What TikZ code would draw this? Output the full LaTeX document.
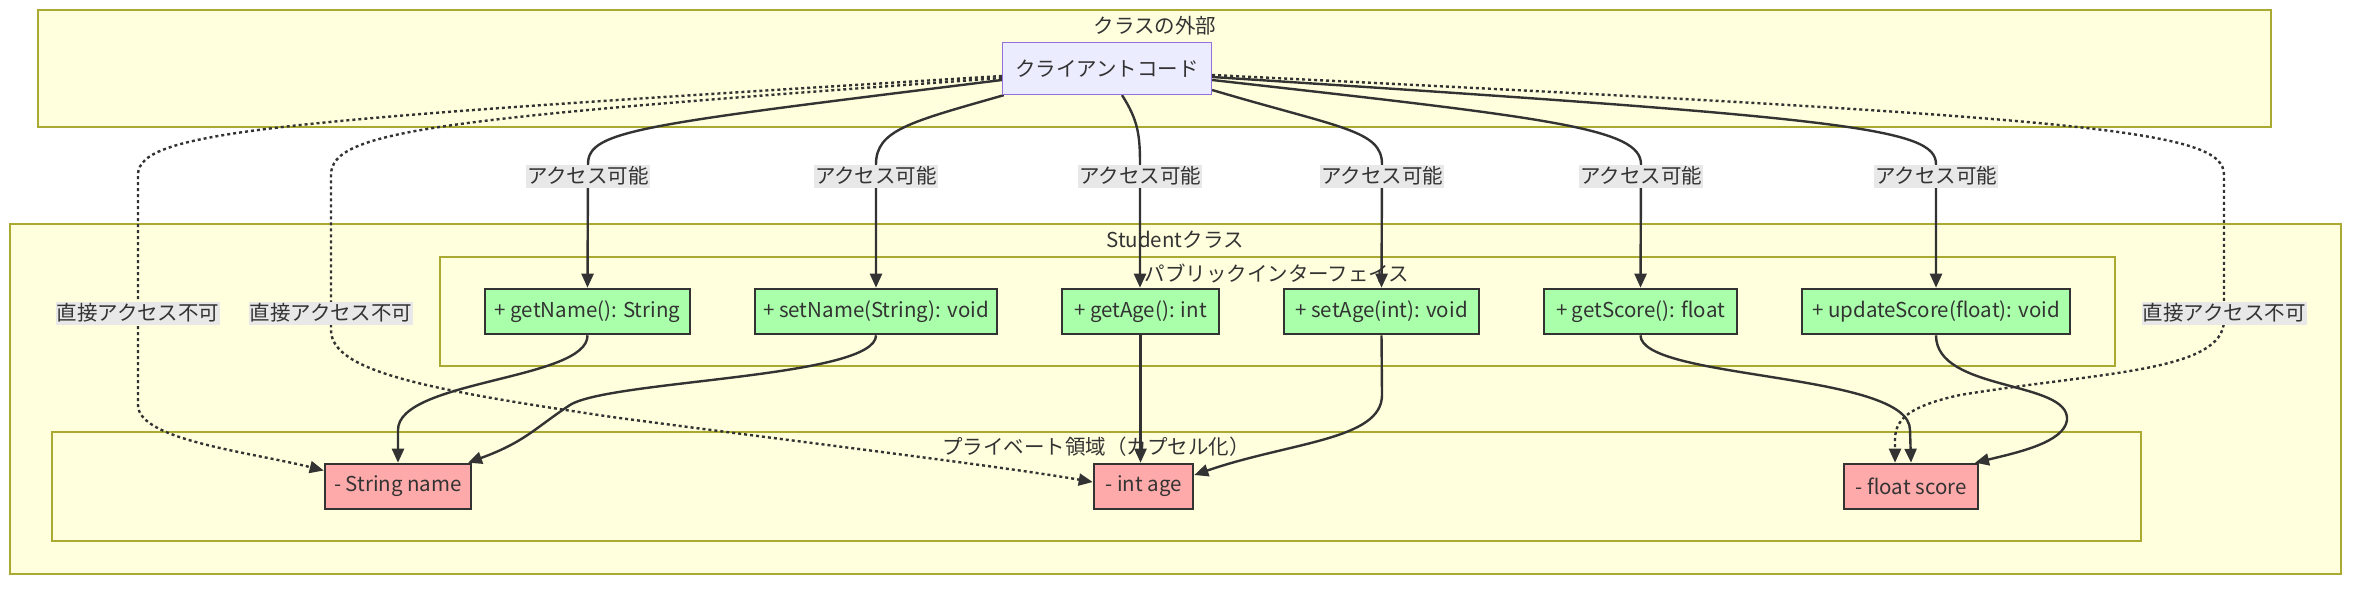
\documentclass[tikz,border=0pt]{standalone}
\usepackage{fontspec}
\setmainfont{Noto Sans CJK JP}
\usetikzlibrary{arrows.meta}
\definecolor{clfill}{HTML}{FFFFDE}
\definecolor{cldraw}{HTML}{AAAA33}
\definecolor{txt}{HTML}{333333}
\definecolor{cfill}{HTML}{ECECFF}
\definecolor{cdraw}{HTML}{9370DB}
\definecolor{pubfill}{HTML}{AAFFAA}
\definecolor{privfill}{HTML}{FFAAAA}
\definecolor{lblfill}{HTML}{E8E8E8}
\pgfdeclarelayer{bg}
\pgfdeclarelayer{edges}
\pgfsetlayers{bg,edges,main}
\begin{document}
\begin{tikzpicture}[x=1pt,y=-1pt, font=\fontsize{20.5}{24}\selectfont, text=txt,
 cluster/.style={fill=clfill, draw=cldraw, line width=1.3pt, inner sep=0pt},
 ctitle/.style={inner sep=0pt, anchor=center},
 client/.style={fill=cfill, draw=cdraw, line width=1.3pt, minimum height=52pt, minimum width=209pt, inner sep=0pt},
 pub/.style={fill=pubfill, draw=txt, line width=2.6pt, minimum height=45pt, inner sep=0pt},
 priv/.style={fill=privfill, draw=txt, line width=2.6pt, minimum height=45pt, inner sep=0pt},
 lbl/.style={fill=lblfill, inner xsep=1pt, inner ysep=0pt, minimum height=23pt},
 acc/.style={draw=txt, line width=2.4pt, -{Triangle[length=14pt,width=12pt]}},
 noacc/.style={acc, dash pattern=on 3pt off 3pt}
]
\begin{pgfonlayer}{bg}
\fill[white] (0,0) rectangle (2368,590);
\node[cluster, minimum width=2233pt, minimum height=117pt] (outer) at (1154.5,68.5) {};
\node[cluster, minimum width=2331pt, minimum height=350pt] (student) at (1175.5,399) {};
\node[cluster, minimum width=1675pt, minimum height=109pt] (public) at (1277.5,311.5) {};
\node[cluster, minimum width=2089pt, minimum height=109pt] (private) at (1096.5,486.5) {};
\end{pgfonlayer}
\useasboundingbox (0,0) rectangle (2368,590);

% cluster titles
\node[ctitle] (tOuter) at (1155,26) {クラスの外部};
\node[ctitle] (tStudent) at (1175,240) {Studentクラス};
\node[ctitle] (tPublic) at (1277,273) {パブリックインターフェイス};
\node[ctitle] (tPrivate) at (1096,447) {プライベート領域（カプセル化）};

% nodes
\node[client] (client) at (1107,68.5) {クライアントコード};
\node[pub, minimum width=205pt] (getName) at (587.5,311.5) {+ getName(): String};
\node[pub, minimum width=242pt] (setName) at (876,311.5) {+ setName(String): void};
\node[pub, minimum width=157pt] (getAge) at (1140.5,311.5) {+ getAge(): int};
\node[pub, minimum width=195pt] (setAge) at (1381.5,311.5) {+ setAge(int): void};
\node[pub, minimum width=193pt] (getScore) at (1640.5,311.5) {+ getScore(): float};
\node[pub, minimum width=268pt] (updateScore) at (1936,311.5) {+ updateScore(float): void};
\node[priv, minimum width=146pt] (strname) at (398,486.5) {- String name};
\node[priv, minimum width=99pt] (intage) at (1143.5,486.5) {- int age};
\node[priv, minimum width=134pt] (floatscore) at (1911,486.5) {- float score};

% edge labels
\node[lbl] (la1) at (588,176) {アクセス可能};
\node[lbl] (la2) at (876,176) {アクセス可能};
\node[lbl] (la3) at (1140,176) {アクセス可能};
\node[lbl] (la4) at (1382,176) {アクセス可能};
\node[lbl] (la5) at (1641,176) {アクセス可能};
\node[lbl] (la6) at (1936,176) {アクセス可能};
\node[lbl] (ln1) at (138,313) {直接アクセス不可};
\node[lbl] (ln2) at (331,313) {直接アクセス不可};
\node[lbl] (ln3) at (2224,313) {直接アクセス不可};

\begin{pgfonlayer}{edges}
% client -> public
\draw[acc] ([yshift=-11.5pt]client.west) .. controls (640,125) and (588,130) .. (la1.north) -- (getName.north);
\draw[acc] ([xshift=2pt]client.south west) .. controls (910,122) and (876,130) .. (la2.north) -- (setName.north);
\draw[acc] ([xshift=15pt]client.south) .. controls (1138,120) and (1140,135) .. (la3.north) -- (la3.north |- getAge.north);
\draw[acc] ([yshift=-21.5pt]client.east) .. controls (1340,128) and (1382,130) .. (la4.north) -- (setAge.north);
\draw[acc] ([yshift=-11.5pt]client.east) .. controls (1550,118) and (1641,128) .. (la5.north) -- (getScore.north);
\draw[acc] ([yshift=-8.5pt]client.east) .. controls (1850,118) and (1936,128) .. (la6.north) -- (updateScore.north);
% client -> private (dotted)
\draw[noacc] ([yshift=-7.5pt]client.west) .. controls (280,120) and (138,130) .. (138,175) -- (ln1.north) -- (ln1.south) -- (138,405) .. controls (138,440) and (250,452) .. ([yshift=16pt]strname.west);
\draw[noacc] ([yshift=-9.5pt]client.west) .. controls (440,118) and (331,130) .. (331,175) -- (ln2.north) -- (ln2.south) -- (331,330) .. controls (331,372) and (430,390) .. (612,417) .. controls (800,442) and (1000,466) .. ([yshift=4.5pt]intage.west);
\draw[noacc] ([yshift=-6.5pt]client.east) .. controls (2100,118) and (2224,130) .. (2224,175) -- (ln3.north) -- (ln3.south) -- (2224,320) .. controls (2224,372) and (2100,372) .. (1960,395) .. controls (1890,410) and (1895,430) .. ([xshift=-16pt]floatscore.north);
% public -> private
\draw[acc] (getName.south) .. controls (588,380) and (398,380) .. (398,430) -- (strname.north);
\draw[acc] (setName.south) .. controls (876,378) and (610,380) .. (570,405) .. controls (535,428) and (525,442) .. ([xshift=70pt]strname.north);
\draw[acc] (getAge.south) -- (getAge.south |- intage.north);
\draw[acc] (setAge.south) -- (1382,395) .. controls (1382,440) and (1290,442) .. ([yshift=11.5pt]intage.east);
\draw[acc] (getScore.south) .. controls (1641,380) and (1910,372) .. (1910,430) -- (floatscore.north);
\draw[acc] (updateScore.south) .. controls (1936,392) and (2070,380) .. (2067,420) .. controls (2064,442) and (2020,452) .. ([xshift=64pt]floatscore.north);
\end{pgfonlayer}
\end{tikzpicture}
\end{document}
